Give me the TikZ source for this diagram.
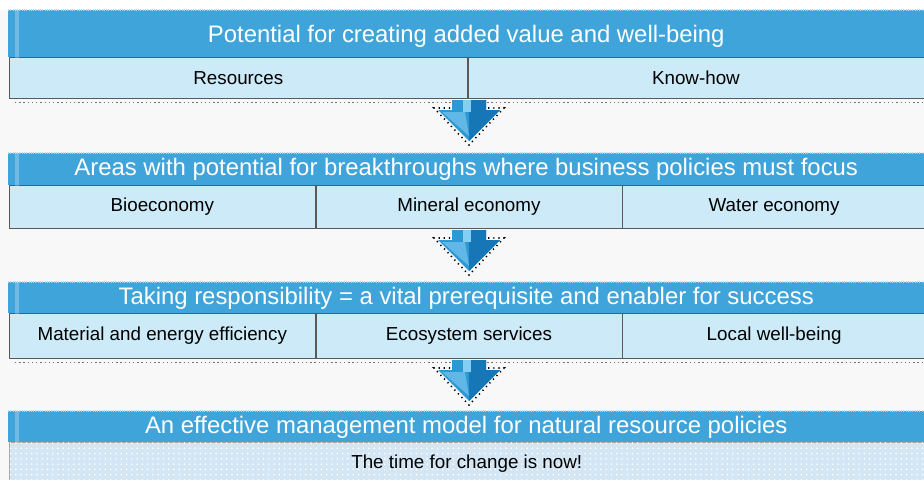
\documentclass[tikz,border=0pt]{standalone}
\usepackage{fontspec}
\setmainfont{Liberation Sans}
\definecolor{bannerblue}{RGB}{62,164,217}
\definecolor{cellblue}{RGB}{205,234,248}
\definecolor{footblue}{RGB}{212,230,244}
\definecolor{arrowblue}{RGB}{44,152,212}
\definecolor{arrowdark}{RGB}{22,118,182}
\definecolor{arrowlight}{RGB}{132,206,242}
\definecolor{pagegray}{RGB}{248,248,248}
\usetikzlibrary{positioning,patterns}
\tikzset{
  banner/.style={fill=bannerblue, text=white, font=\fontsize{13.6}{16}\selectfont,
    minimum width=18.32cm, inner sep=0pt, anchor=north west},
  cellbox/.style={draw=black!65, line width=0.4pt, fill=cellblue,
    font=\fontsize{10.7}{12}\selectfont, inner sep=0pt, anchor=north west},
  rowrule/.style={black!55, line width=0.7pt, dash pattern=on 0.8pt off 1.6pt},
  pics/flowarrow/.style={code={
    \fill[arrowblue] (-17,0) -- (17,0) -- (17,10) -- (31,10) -- (0,41) -- (-31,10) -- (-17,10) -- cycle;
    \fill[arrowdark] (0,0) -- (17,0) -- (17,10) -- (31,10) -- (0,41) -- cycle;
    \fill[arrowlight] (-6,0) rectangle (2,12);
    \fill[arrowlight!60!arrowblue] (-27,12) -- (-4,12) -- (0,36) -- cycle;
    \draw[black, line width=0.9pt, dash pattern=on 0.7pt off 2.2pt]
      (-19,8) -- (-35,8) -- (0,45) -- (35,8) -- (19,8);
  }}
}

\begin{document}
\begin{tikzpicture}[x=0.02cm, y=-0.02cm]
  \useasboundingbox (0,0) rectangle (924,480);
  \fill[pagegray] (0,0) rectangle (924,480);
  \fill[white] (0,0) rectangle (924,10);

  % first block
  \node[banner, minimum height=0.94cm, text depth=-0.02cm] (potential) at (8,10) {Potential for creating added value and well-being};
  \node[cellbox, minimum width=9.16cm, minimum height=0.82cm] (resources) at (9,57) {Resources};
  \node[cellbox, minimum width=9.12cm, minimum height=0.82cm, right=0pt of resources] (knowhow) {Know-how};
  \draw[rowrule] ([xshift=0.12cm, yshift=-0.07cm]resources.south west) -- ([yshift=-0.07cm]knowhow.south east);

  % second block
  \node[banner, minimum height=0.64cm] (areas) at (8,153) {Areas with potential for breakthroughs where business policies must focus};
  \node[cellbox, minimum width=6.12cm, minimum height=0.86cm] (bio) at (9,185) {Bioeconomy};
  \node[cellbox, minimum width=6.12cm, minimum height=0.86cm, right=0pt of bio] (mineral) {Mineral economy};
  \node[cellbox, minimum width=6.06cm, minimum height=0.86cm, right=0pt of mineral] (water) {Water economy};

  % third block
  \node[banner, minimum height=0.62cm] (responsibility) at (8,282) {Taking responsibility = a vital prerequisite and enabler for success};
  \node[cellbox, minimum width=6.12cm, minimum height=0.9cm] (efficiency) at (9,313) {Material and energy efficiency};
  \node[cellbox, minimum width=6.12cm, minimum height=0.9cm, right=0pt of efficiency] (ecosystem) {Ecosystem services};
  \node[cellbox, minimum width=6.06cm, minimum height=0.9cm, right=0pt of ecosystem] (local) {Local well-being};
  \draw[rowrule] ([xshift=0.12cm, yshift=-0.07cm]efficiency.south west) -- ([yshift=-0.07cm]local.south east);

  % last block
  \node[banner, minimum height=0.62cm] (model) at (8,411) {An effective management model for natural resource policies};
  \node[cellbox, fill=footblue, draw=black!35, minimum width=18.30cm, minimum height=0.76cm,
    text depth=-0.34cm, postaction={pattern=dots, pattern color=white}] (now) at (9,442) {The time for change is now!};

  % light edge on the banners
  \foreach \b in {potential,areas,responsibility,model} {
    \fill[white, opacity=0.25] ([xshift=0.14cm]\b.north west) rectangle ([xshift=0.22cm]\b.south west);
    \draw[white!60!bannerblue, line width=0.6pt, dash pattern=on 0.5pt off 0.8pt] (\b.north west) -- (\b.north east);
  }

  \pic at (469,100) {flowarrow};
  \pic at (469,230) {flowarrow};
  \pic at (469,360) {flowarrow};
\end{tikzpicture}
\end{document}
